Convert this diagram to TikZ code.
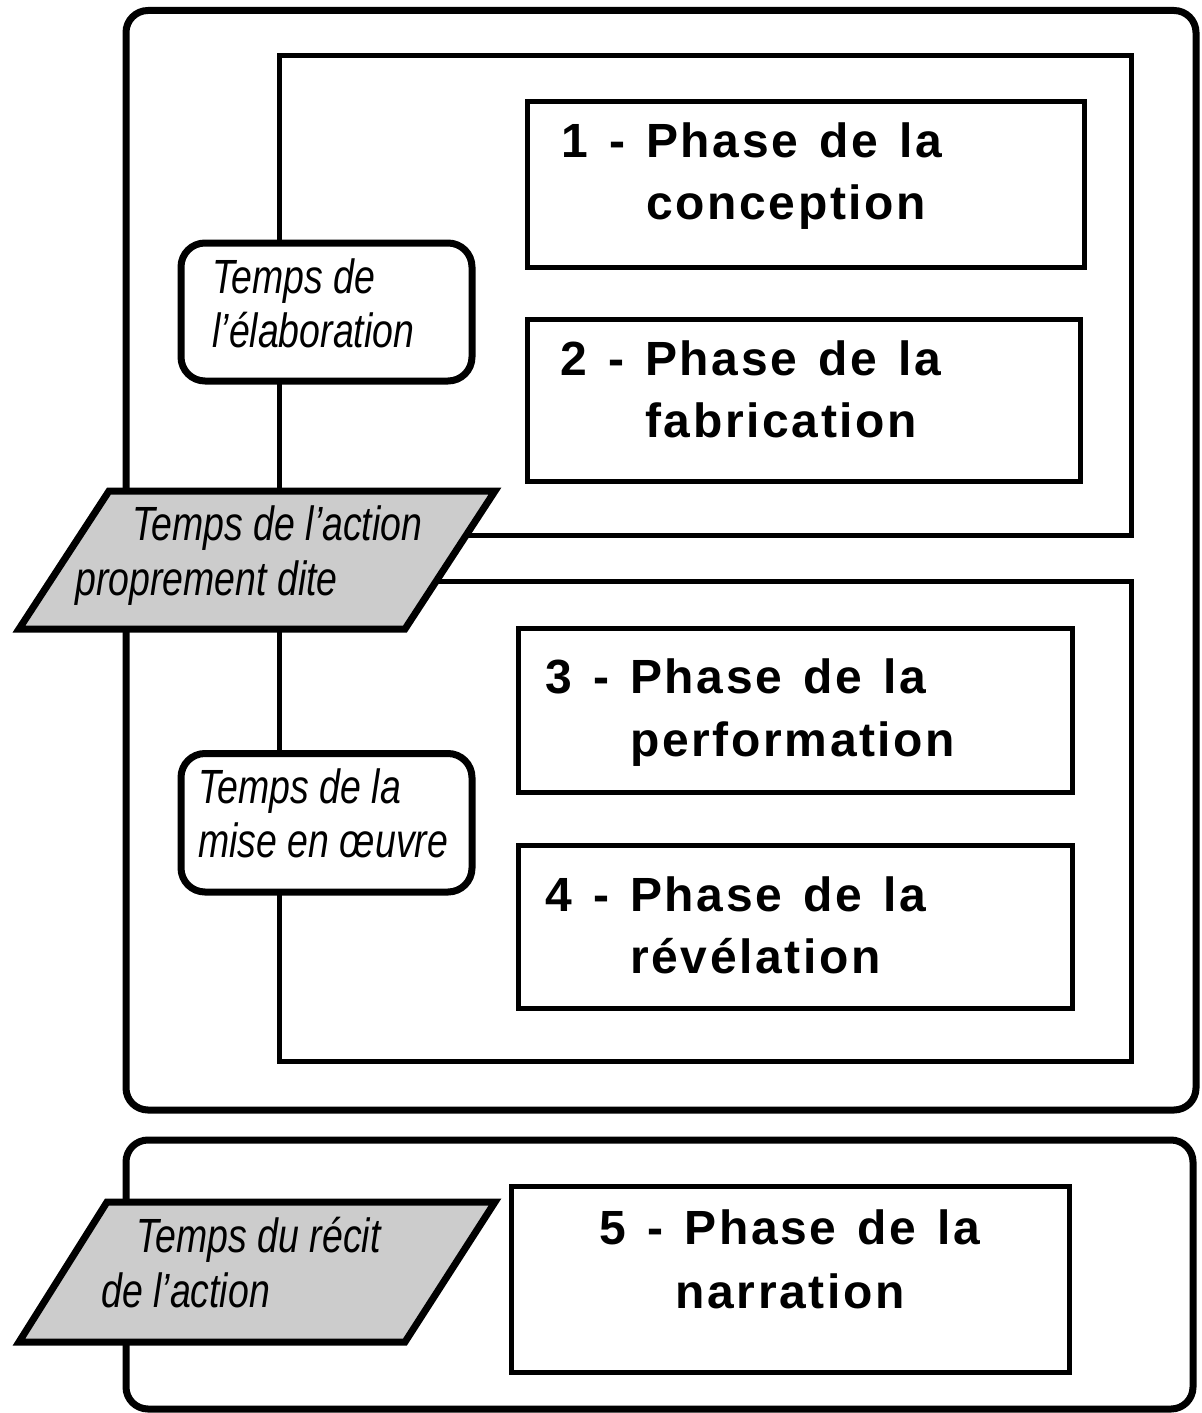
\documentclass[tikz,border=0pt]{standalone}
\usepackage{fontspec}
\setmainfont{Liberation Sans}
\newfontfamily\phasefont[LetterSpace=5.5,WordSpace=1.32]{Liberation Sans}
\newfontfamily\tempsfont[FakeStretch=0.78]{Liberation Sans}
\definecolor{pgray}{RGB}{204,204,204}
\tikzset{
  outerframe/.style={draw, line width=3.5pt, rounded corners=11pt},
  innerframe/.style={draw, line width=2.5pt},
  phasebox/.style={draw, line width=2.5pt},
  labelbox/.style={draw, fill=white, line width=3.5pt, rounded corners=12pt},
  slantbox/.style={draw, fill=pgray, line width=3.5pt},
  phasetext/.style={font=\phasefont\bfseries\fontsize{24pt}{#1}\selectfont, inner sep=0pt, align=left, anchor=north west},
  tempstext/.style={font=\tempsfont\itshape\fontsize{24pt}{#1}\selectfont, inner sep=0pt, align=left, anchor=north west}
}
\begin{document}
\begin{tikzpicture}[x=0.5pt,y=-0.5pt]
\useasboundingbox (0,0) rectangle (1201,1413);
% outer frames
\path[outerframe] (126,10.5) rectangle (1196,1110);
\path[outerframe] (126,1140) rectangle (1193,1409);
% inner frames
\path[innerframe] (279,55.5) rectangle (1131,535);
\path[innerframe] (279,581) rectangle (1131,1061);
% phase boxes
\path[phasebox] (527,101.5) rectangle (1084,267);
\path[phasebox] (527,319.5) rectangle (1080,481);
\path[phasebox] (518,628) rectangle (1072,792);
\path[phasebox] (518,845) rectangle (1072,1008);
\path[phasebox] (511,1186) rectangle (1069,1372);
% label boxes
\path[labelbox] (181,243) rectangle (472,381);
\path[labelbox] (181,753.5) rectangle (472,892);
% slanted boxes
\path[slantbox] (109,491) -- (495,491) -- (405,629) -- (19,629) -- cycle;
\path[slantbox] (107,1202) -- (495,1202) -- (405,1342) -- (19,1342) -- cycle;
% phase texts
\node[phasetext=31pt] (t1) at (561,122) {1 - Phase de la\\\hphantom{1 - }conception};
\node[phasetext=31pt] (t2) at (560,340) {2 - Phase de la\\\hphantom{2 - }fabrication};
\node[phasetext=31.5pt] (t3) at (545,658) {3 - Phase de la\\\hphantom{3 - }performation};
\node[phasetext=31pt] (t4) at (545,876) {4 - Phase de la\\\hphantom{4 - }révélation};
\node[phasetext=32pt, align=center, anchor=north] (t5) at (790,1209) {5 - Phase de la\\narration};
% temps texts
\node[tempstext=27pt] (e1) at (212,258) {Temps de\\l’élaboration};
\node[tempstext=27pt] (e2) at (198,768) {Temps de la\\mise en œuvre};
\node[tempstext=27.5pt] (a1) at (75,505) {\hspace*{28.5pt}Temps de l’action\\proprement dite};
\node[tempstext=27.5pt] (a2) at (101,1217) {\hspace*{17.5pt}Temps du récit\\de l’action};
\end{tikzpicture}
\end{document}
